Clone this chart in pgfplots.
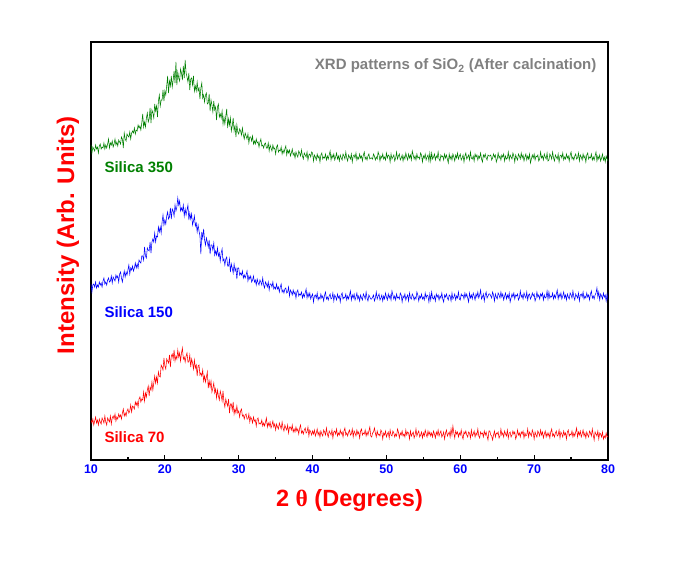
\documentclass[border=0pt]{standalone}
\usepackage{fontspec}
\setmainfont{Liberation Sans}
\newfontfamily\serifgr{Liberation Serif}
\usepackage{pgfplots}
\usepackage{pgfplotstable}
\pgfplotsset{compat=1.18}
\definecolor{xgreen}{RGB}{0,128,0}
\definecolor{xblue}{RGB}{0,0,255}
\definecolor{xred}{RGB}{255,0,0}
\definecolor{xgray}{RGB}{128,128,128}
% one line = one degree (10,...,79), 8 readings per degree, last value at 80
\pgfplotstableread[row sep=\\]{y\\
40\\37\\41\\35\\39\\43\\37\\40\\
35\\41\\38\\36\\42\\40\\37\\44\\
38\\35\\42\\40\\38\\44\\36\\42\\
44\\41\\46\\39\\43\\41\\46\\43\\
45\\41\\47\\51\\44\\47\\44\\49\\
51\\47\\49\\55\\48\\54\\53\\51\\
58\\55\\58\\53\\61\\63\\58\\61\\
60\\68\\59\\67\\63\\70\\74\\64\\
73\\70\\78\\70\\77\\84\\77\\83\\
77\\88\\84\\83\\95\\93\\90\\102\\
94\\91\\101\\99\\97\\105\\93\\104\\
106\\101\\110\\99\\104\\101\\110\\103\\
107\\99\\107\\112\\101\\103\\98\\104\\
107\\98\\98\\105\\93\\101\\97\\91\\
100\\92\\95\\84\\94\\95\\85\\87\\
84\\90\\79\\84\\78\\83\\88\\72\\
79\\73\\79\\68\\72\\77\\67\\71\\
62\\70\\64\\60\\69\\65\\59\\69\\
58\\53\\61\\57\\54\\61\\47\\56\\
56\\50\\58\\46\\51\\47\\54\\47\\
49\\43\\49\\51\\44\\45\\41\\45\\
46\\41\\41\\46\\38\\43\\41\\37\\
43\\39\\40\\34\\41\\42\\36\\37\\
36\\40\\34\\37\\34\\38\\42\\33\\
37\\34\\38\\32\\35\\39\\33\\36\\
30\\36\\33\\31\\37\\34\\31\\38\\
32\\29\\35\\32\\30\\35\\27\\33\\
33\\30\\35\\28\\31\\28\\33\\29\\
31\\26\\32\\35\\27\\29\\26\\30\\
32\\27\\28\\33\\24\\30\\28\\25\\
29\\26\\30\\24\\27\\31\\25\\28\\
23\\29\\26\\24\\30\\28\\25\\32\\
26\\23\\29\\27\\25\\30\\22\\28\\
29\\26\\31\\24\\27\\25\\30\\26\\
28\\23\\29\\32\\25\\27\\24\\28\\
30\\25\\26\\31\\23\\29\\27\\24\\
30\\26\\28\\22\\29\\31\\25\\27\\
26\\30\\24\\28\\25\\29\\33\\24\\
23\\27\\28\\32\\27\\23\\29\\25\\
26\\24\\30\\28\\21\\27\\25\\29\\
23\\26\\28\\22\\30\\25\\24\\29\\
27\\23\\26\\24\\31\\28\\22\\27\\
25\\29\\24\\26\\23\\30\\25\\28\\
27\\21\\29\\24\\26\\28\\22\\25\\
31\\24\\27\\29\\23\\25\\28\\22\\
27\\24\\30\\26\\23\\29\\25\\28\\
24\\27\\23\\29\\26\\22\\28\\25\\
30\\24\\27\\29\\23\\25\\28\\21\\
27\\30\\24\\26\\28\\23\\31\\25\\
34\\27\\22\\29\\26\\28\\23\\27\\
25\\30\\24\\21\\28\\26\\29\\25\\
23\\28\\27\\22\\30\\24\\26\\29\\
23\\27\\25\\31\\24\\22\\28\\26\\
27\\23\\29\\25\\28\\24\\20\\29\\
29\\25\\24\\20\\25\\29\\23\\27\\
26\\28\\22\\24\\31\\25\\27\\23\\
29\\26\\24\\30\\22\\27\\28\\23\\
25\\29\\26\\28\\21\\24\\30\\25\\
27\\23\\28\\26\\29\\22\\27\\24\\
25\\31\\23\\28\\26\\24\\30\\27\\
21\\28\\25\\23\\29\\27\\24\\30\\
25\\28\\22\\26\\29\\23\\27\\24\\
27\\22\\28\\31\\24\\26\\23\\27\\
29\\24\\25\\30\\22\\28\\26\\23\\
29\\25\\27\\21\\28\\30\\24\\26\\
25\\29\\23\\27\\24\\28\\32\\23\\
28\\25\\29\\23\\26\\30\\24\\27\\
22\\28\\25\\23\\29\\27\\24\\31\\
25\\20\\28\\26\\24\\29\\21\\27\\
26\\23\\28\\21\\24\\22\\27\\23\\
24\\
}\sredA
\pgfplotstableread[row sep=\\]{y\\
176\\168\\175\\176\\173\\178\\172\\175\\
173\\178\\175\\177\\173\\179\\182\\176\\
178\\175\\180\\182\\178\\179\\184\\177\\
183\\181\\179\\185\\182\\184\\178\\186\\
188\\182\\178\\184\\189\\183\\188\\185\\
190\\195\\186\\192\\190\\194\\189\\192\\
197\\192\\196\\192\\200\\198\\197\\204\\
204\\200\\213\\204\\202\\212\\210\\209\\
218\\207\\218\\221\\218\\227\\218\\224\\
223\\233\\228\\233\\227\\238\\245\\235\\
240\\236\\244\\248\\241\\243\\252\\241\\
251\\249\\244\\255\\249\\253\\262\\255\\
259\\249\\252\\249\\255\\244\\251\\245\\
250\\255\\240\\247\\241\\246\\235\\239\\
244\\234\\237\\228\\235\\229\\224\\206\\
228\\222\\231\\220\\215\\222\\218\\213\\
220\\206\\215\\215\\210\\217\\205\\209\\
205\\212\\204\\207\\199\\207\\211\\199\\
201\\195\\201\\203\\194\\194\\201\\188\\
196\\192\\187\\196\\189\\192\\181\\192\\
192\\185\\187\\185\\189\\182\\185\\182\\
185\\189\\179\\184\\181\\184\\178\\180\\
184\\178\\180\\175\\181\\177\\175\\180\\
178\\175\\182\\175\\172\\178\\176\\173\\
178\\170\\176\\176\\173\\178\\171\\173\\
171\\176\\171\\173\\168\\173\\176\\168\\
170\\167\\171\\172\\167\\168\\173\\164\\
170\\168\\165\\170\\166\\168\\162\\168\\
170\\164\\166\\165\\168\\162\\166\\163\\
167\\171\\162\\167\\163\\167\\161\\164\\
166\\158\\164\\165\\162\\167\\160\\163\\
161\\166\\162\\164\\159\\165\\168\\161\\
163\\160\\164\\166\\161\\162\\167\\159\\
165\\163\\160\\166\\162\\164\\158\\165\\
167\\161\\163\\162\\166\\160\\164\\161\\
165\\169\\160\\165\\162\\166\\160\\163\\
167\\161\\164\\159\\165\\162\\160\\166\\
164\\161\\168\\162\\159\\165\\163\\161\\
161\\163\\165\\159\\162\\168\\161\\164\\
166\\160\\162\\165\\159\\164\\161\\167\\
163\\160\\166\\162\\165\\160\\169\\165\\
161\\164\\160\\166\\162\\163\\161\\167\\
165\\158\\164\\162\\166\\160\\163\\165\\
159\\167\\162\\161\\166\\164\\160\\163\\
161\\168\\165\\159\\164\\162\\166\\161\\
163\\160\\167\\162\\165\\164\\158\\166\\
160\\168\\162\\161\\164\\159\\166\\163\\
165\\160\\164\\162\\167\\161\\158\\165\\
163\\166\\162\\160\\165\\164\\159\\167\\
161\\163\\166\\160\\164\\162\\168\\161\\
160\\166\\164\\165\\161\\167\\163\\166\\
162\\158\\167\\162\\165\\161\\167\\164\\
160\\166\\163\\168\\162\\165\\170\\161\\
163\\166\\159\\165\\168\\162\\164\\166\\
166\\164\\162\\168\\165\\159\\166\\163\\
161\\167\\165\\162\\168\\163\\166\\160\\
164\\167\\161\\165\\162\\167\\158\\162\\
166\\163\\167\\161\\165\\164\\166\\160\\
162\\169\\163\\165\\161\\167\\164\\162\\
168\\160\\165\\166\\161\\163\\167\\164\\
166\\159\\162\\168\\163\\165\\161\\166\\
164\\167\\160\\165\\162\\163\\169\\161\\
168\\162\\164\\163\\167\\161\\165\\162\\
166\\170\\161\\166\\163\\167\\161\\164\\
168\\162\\165\\160\\166\\163\\161\\167\\
165\\162\\169\\163\\160\\166\\164\\162\\
167\\159\\165\\166\\163\\168\\161\\164\\
162\\167\\163\\165\\160\\166\\169\\162\\
164\\161\\165\\167\\172\\163\\168\\160\\
166\\164\\161\\167\\163\\165\\159\\166\\
160\\
}\sblueA
\pgfplotstableread[row sep=\\]{y\\
315\\307\\313\\311\\309\\315\\311\\313\\
307\\314\\316\\311\\313\\312\\317\\311\\
315\\312\\316\\321\\312\\317\\315\\319\\
313\\316\\321\\315\\318\\314\\320\\318\\
316\\323\\321\\312\\327\\321\\319\\326\\
324\\323\\328\\321\\327\\329\\327\\332\\
326\\330\\329\\335\\332\\334\\330\\337\\
346\\333\\338\\333\\342\\347\\338\\341\\
352\\337\\350\\347\\342\\356\\349\\354\\
343\\359\\365\\354\\360\\360\\370\\359\\
369\\365\\374\\384\\367\\379\\374\\384\\
373\\380\\389\\377\\398\\375\\388\\382\\
379\\391\\387\\380\\394\\382\\400\\387\\
383\\378\\387\\370\\381\\382\\375\\384\\
369\\374\\369\\378\\369\\372\\361\\372\\
377\\362\\365\\358\\365\\367\\356\\357\\
366\\349\\360\\355\\348\\359\\350\\353\\
340\\353\\356\\343\\346\\342\\349\\336\\
343\\336\\344\\351\\332\\341\\335\\342\\
329\\334\\342\\329\\334\\323\\335\\328\\
326\\331\\329\\325\\332\\325\\321\\327\\
324\\321\\326\\317\\323\\323\\319\\324\\
316\\319\\316\\321\\317\\318\\313\\318\\
321\\314\\315\\312\\316\\317\\312\\312\\
317\\309\\315\\312\\309\\315\\311\\312\\
306\\313\\315\\308\\310\\309\\313\\306\\
310\\307\\311\\314\\305\\310\\307\\310\\
304\\307\\311\\305\\307\\302\\308\\305\\
303\\309\\307\\304\\310\\304\\301\\307\\
305\\303\\308\\300\\305\\306\\303\\308\\
307\\299\\305\\303\\300\\306\\302\\304\\
298\\305\\307\\301\\303\\302\\306\\300\\
304\\301\\305\\309\\300\\305\\302\\306\\
300\\303\\307\\301\\304\\299\\305\\302\\
300\\306\\304\\301\\308\\302\\299\\305\\
303\\301\\306\\298\\304\\305\\302\\307\\
300\\303\\301\\306\\302\\304\\299\\305\\
308\\301\\303\\300\\304\\306\\301\\302\\
302\\301\\306\\304\\300\\303\\301\\308\\
305\\299\\304\\302\\306\\301\\303\\300\\
307\\302\\305\\304\\298\\306\\301\\303\\
305\\299\\302\\308\\301\\304\\306\\300\\
302\\305\\299\\304\\301\\307\\303\\300\\
306\\302\\305\\300\\309\\305\\301\\304\\
300\\306\\302\\303\\301\\307\\305\\298\\
304\\302\\306\\300\\303\\305\\299\\307\\
299\\307\\301\\303\\306\\300\\304\\302\\
308\\301\\299\\305\\303\\304\\300\\306\\
302\\305\\301\\297\\306\\301\\304\\300\\
306\\303\\299\\305\\302\\307\\301\\304\\
306\\300\\302\\305\\298\\304\\307\\301\\
303\\305\\300\\308\\302\\301\\304\\299\\
306\\303\\305\\300\\304\\302\\307\\301\\
298\\305\\303\\306\\302\\300\\305\\304\\
304\\305\\300\\302\\306\\303\\305\\298\\
301\\307\\302\\304\\300\\305\\303\\306\\
299\\304\\301\\302\\308\\300\\305\\303\\
301\\307\\304\\298\\305\\302\\300\\306\\
304\\301\\307\\302\\305\\299\\303\\306\\
300\\304\\301\\306\\297\\301\\305\\302\\
306\\300\\304\\303\\305\\299\\301\\308\\
302\\304\\300\\306\\303\\301\\307\\299\\
300\\306\\304\\301\\308\\302\\299\\305\\
303\\301\\306\\298\\304\\305\\302\\307\\
300\\303\\301\\306\\302\\304\\299\\305\\
308\\301\\303\\300\\304\\306\\301\\302\\
307\\299\\305\\303\\300\\306\\302\\304\\
298\\305\\307\\301\\303\\302\\306\\300\\
303\\300\\304\\308\\299\\304\\301\\305\\
299\\302\\306\\300\\303\\298\\304\\301\\
299\\
}\sgreenA
\begin{document}
\begin{tikzpicture}
\begin{axis}[
  name=ax,
  scale only axis,
  width=517pt, height=418pt,
  xmin=10, xmax=80, ymin=0, ymax=418,
  axis line style={line width=1.5pt},
  xtick={10,20,...,80},
  minor xtick={15,25,...,75},
  ytick=\empty,
  xtick pos=bottom,
  tick align=inside,
  major tick length=5pt,
  minor tick length=3pt,
  every tick/.style={black, line width=1.2pt},
  /pgf/number format/assume math mode=true,
  xticklabel style={font=\bfseries\fontsize{12.5}{12.5}\selectfont, text=xblue, yshift=-1pt},
  xlabel={2 {\serifgr θ} (Degrees)},
  ylabel={Intensity (Arb. Units)},
  x label style={at={(axis description cs:0.5,0)}, anchor=center, yshift=-40pt, font=\bfseries\fontsize{23.5}{23.5}\selectfont, text=xred},
  y label style={at={(axis description cs:-0.0445,0.538)}, anchor=center, rotate=0, font=\bfseries\fontsize{24}{24}\selectfont, text=xred},
  clip=true,
]
\addplot[xred, line width=0.55pt] table[x expr=10+0.125*\coordindex, y=y] {\sredA};
\addplot[xblue, line width=0.55pt] table[x expr=10+0.125*\coordindex, y=y] {\sblueA};
\addplot[xgreen, line width=0.55pt] table[x expr=10+0.125*\coordindex, y=y] {\sgreenA};
\node[anchor=west, text=xgreen, font=\bfseries\fontsize{15}{15}\selectfont] at (axis cs:11.35,293) {Silica 350};
\node[anchor=west, text=xblue, font=\bfseries\fontsize{15}{15}\selectfont] at (axis cs:11.35,148) {Silica 150};
\node[anchor=west, text=xred, font=\bfseries\fontsize{15}{15}\selectfont] at (axis cs:11.35,23) {Silica 70};
\node[anchor=east, text=xgray, font=\bfseries\fontsize{15}{15}\selectfont] at (axis cs:78.9,394) {XRD patterns of SiO\textsubscript{2} (After calcination)};
\end{axis}
\path[use as bounding box] ([shift={(-91pt,-111pt)}]ax.south west) rectangle ([shift={(74pt,42pt)}]ax.north east);
\end{tikzpicture}
\end{document}
